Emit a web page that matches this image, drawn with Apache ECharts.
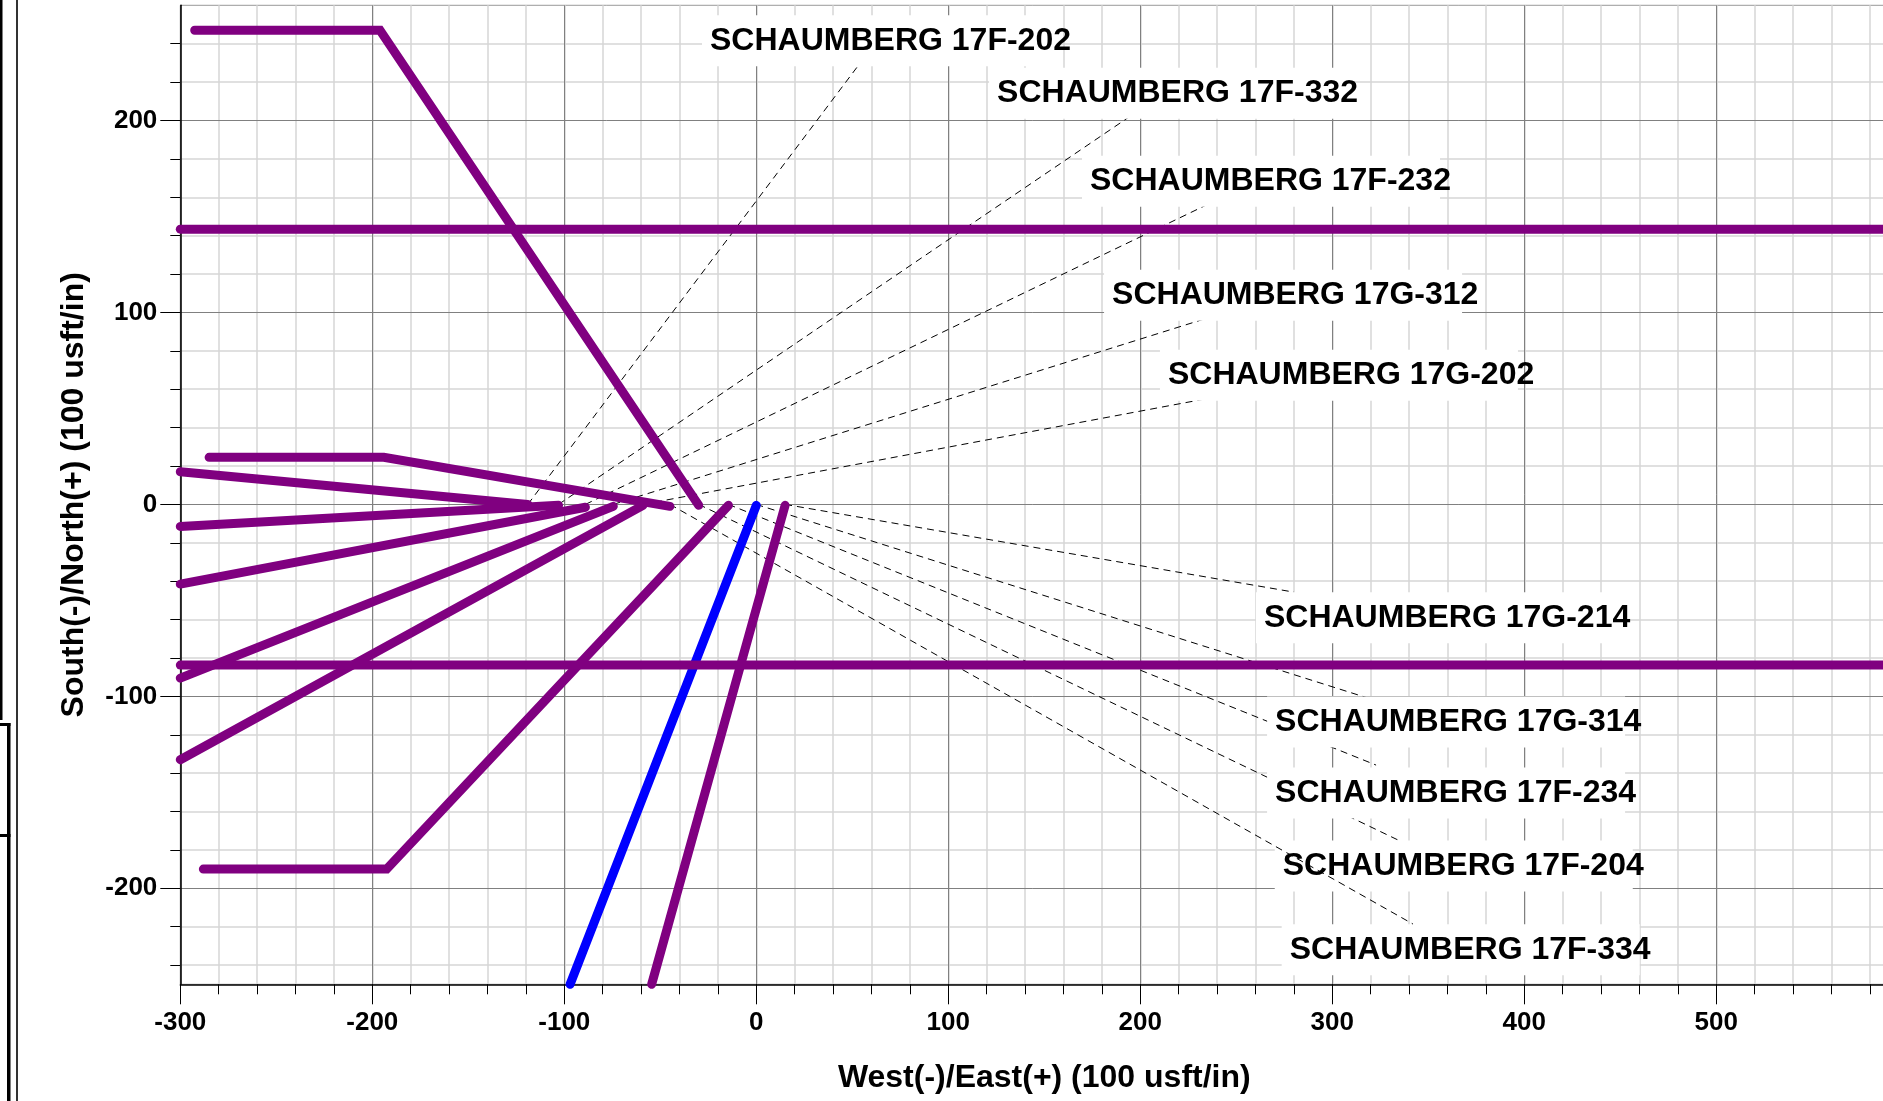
<!DOCTYPE html>
<html>
<head>
<meta charset="utf-8">
<style>html,body{margin:0;padding:0;background:#fff}#c{width:1883px;height:1101px}</style>
<script src="https://cdn.jsdelivr.net/npm/echarts@6/dist/echarts.min.js"></script>
</head>
<body>
<div id="c"></div>
<script>
// Plan-view wellbores, in 100 usft/in units
const well17F202 = [[-119, 0], [-300, 17]];
const well17F332 = [[-103, -0.5], [-300, -11.5]];
const well17F232 = [[-89, -1.5], [-300, -41.5]];
const well17G312 = [[-74.5, -1], [-300, -90.5]];
const well17G202 = [[-59, -0.5], [-300, -133]];
const well17G214 = [[-45, -1], [-194, 24.5], [-285, 24.5]];
const well17G314 = [[-30, -0.5], [-196, 247], [-292.5, 247]];
const well17F234 = [[-14.5, -0.5], [-192.5, -190], [-288, -190]];
const well17F204 = [[15, -0.5], [-54.5, -250]];
const wellSubject = [[0, -0.5], [-97, -250]];
const leaseNorth = [[-300, 143.4], [600, 143.4]];
const leaseSouth = [[-300, -83.7], [600, -83.7]];

// Leader lines: origin -> end
const leaders = [
  ['SCHAUMBERG 17F-202', [-119, 0], [54, 229.8]],
  ['SCHAUMBERG 17F-332', [-103, 0], [194.4, 202]],
  ['SCHAUMBERG 17F-232', [-89, 0], [235.3, 156.4]],
  ['SCHAUMBERG 17G-312', [-74.5, 0], [236.3, 97.5]],
  ['SCHAUMBERG 17G-202', [-59, 0], [236.3, 55.4]],
  ['SCHAUMBERG 17G-214', [15, 0], [280, -45.7]],
  ['SCHAUMBERG 17G-314', [0, 0], [318.6, -100.9]],
  ['SCHAUMBERG 17F-234', [-14.5, 0], [322.8, -135.8]],
  ['SCHAUMBERG 17F-204', [-30, 0], [335, -175.2]],
  ['SCHAUMBERG 17F-334', [-45, 0], [342, -218.6]]
];
// Label anchors (left end of text, centre height)
const labelNames = leaders.map(l => l[0]);
const labelX = [-24.1, 125.4, 173.8, 185.3, 214.4, 264.4, 270.2, 270.2, 274.2, 277.8];
const labelY = [242.6, 215.2, 169.4, 110, 68.3, -58, -112.3, -149.3, -187.3, -231];

const yMajor = [-200, -100, 0, 100, 200];
const yMinor = [-240, -220, -180, -160, -140, -120, -80, -60, -40, -20, 20, 40, 60, 80, 120, 140, 160, 180, 220, 240];

const FONT = '"Liberation Sans", Arial, sans-serif';
const PURPLE = '#800080';
const BLUE = '#0000ff';
const rect = { left: 180.3, top: 5.3, width: 1728, height: 979, outerBoundsMode: 'none', containLabel: false };

const wellSeries = (data, color) => ({
  type: 'line', xAxisIndex: 1, yAxisIndex: 1, data, showSymbol: false, symbol: 'none',
  clip: false, silent: true, z: 6, smooth: false,
  lineStyle: { color, width: 9, cap: 'round', join: 'miter' }
});
const leaderSeries = leaders.map((l, i) => ({
  type: 'line', xAxisIndex: 1, yAxisIndex: 1, data: [l[1], l[2]], showSymbol: false, symbol: 'none',
  silent: true, z: i === 9 ? 5 : 3,
  lineStyle: { color: '#000', width: 1, type: [7, 5] }
}));

const chart = echarts.init(document.getElementById('c'), null, { renderer: 'canvas' });
chart.setOption({
  animation: false,
  backgroundColor: '#fff',
  grid: [
    Object.assign({ show: true, backgroundColor: '#fff', borderColor: '#999', borderWidth: 1 }, rect),
    Object.assign({ show: false }, rect)
  ],
  xAxis: [
    {
      gridIndex: 0, type: 'value', min: -300, max: 600, interval: 20, z: 0, silent: true,
      axisLine: { show: false, onZero: false }, axisLabel: { show: false },
      axisTick: { show: true, length: 10, inside: false, lineStyle: { color: '#000', width: 1 } },
      splitLine: { show: true, lineStyle: { color: '#d6d6d6', width: 1.5 } }
    },
    {
      gridIndex: 1, type: 'value', min: -300, max: 600, interval: 100, z: 1, silent: true,
      name: 'West(-)/East(+) (100 usft/in)', nameLocation: 'middle', nameGap: 78,
      nameTextStyle: { fontFamily: FONT, fontWeight: 'bold', fontSize: 32, color: '#000' },
      axisLine: { show: true, onZero: false, lineStyle: { color: '#000', width: 1.5 } },
      axisTick: { show: true, length: 20, lineStyle: { color: '#000', width: 1 } },
      axisLabel: { show: true, margin: 26, fontFamily: FONT, fontWeight: 'bold', fontSize: 26, color: '#000', showMaxLabel: false },
      splitLine: { show: true, lineStyle: { color: '#808080', width: 1 } }
    }
  ],
  yAxis: [
    {
      gridIndex: 0, type: 'value', min: -250, max: 260, z: 0, silent: true,
      axisLine: { show: false, onZero: false }, axisLabel: { show: false },
      axisTick: { show: true, length: 10, customValues: yMinor, lineStyle: { color: '#000', width: 1 } },
      splitLine: { show: true, lineStyle: { color: '#d6d6d6', width: 1.5 } }
    },
    {
      gridIndex: 1, type: 'value', min: -250, max: 260, z: 1, silent: true,
      name: 'South(-)/North(+) (100 usft/in)', nameLocation: 'middle', nameGap: 90, nameRotate: 90,
      nameTextStyle: { fontFamily: FONT, fontWeight: 'bold', fontSize: 32, color: '#000' },
      axisLine: { show: true, onZero: false, lineStyle: { color: '#000', width: 1.5 } },
      axisTick: { show: true, length: 20, customValues: yMajor, lineStyle: { color: '#000', width: 1 } },
      axisLabel: { show: true, margin: 23, customValues: yMajor, fontFamily: FONT, fontWeight: 'bold', fontSize: 26, color: '#000' },
      splitLine: { show: true, lineStyle: { color: '#808080', width: 1 } }
    }
  ],
  series: [
    ...leaderSeries,
    {
      type: 'scatter', xAxisIndex: 1, yAxisIndex: 1, symbolSize: 0, silent: true, z: 4, clip: false,
      itemStyle: { opacity: 1 },
      data: labelNames.map((name, i) => ({ name, value: [labelX[i], labelY[i]] })),
      label: {
        show: true, position: 'right', distance: 0, offset: [-8, 2],
        formatter: p => p.name, opacity: 1,
        fontFamily: FONT, fontWeight: 'bold', fontSize: 32, lineHeight: 33, color: '#000',
        backgroundColor: '#fff', padding: [9, 0, 9, 8], width: 350, overflow: 'none', align: 'left'
      }
    },
    wellSeries(well17F202, PURPLE),
    wellSeries(well17F332, PURPLE),
    wellSeries(well17F232, PURPLE),
    wellSeries(well17G312, PURPLE),
    wellSeries(well17G202, PURPLE),
    wellSeries(well17G214, PURPLE),
    wellSeries(well17G314, PURPLE),
    wellSeries(well17F234, PURPLE),
    wellSeries(well17F204, PURPLE),
    wellSeries(wellSubject, BLUE),
    wellSeries(leaseNorth, PURPLE),
    wellSeries(leaseSouth, PURPLE)
  ],
  graphic: [
    { type: 'rect', silent: true, shape: { x: 0, y: 0, width: 2.5, height: 720 }, style: { fill: '#000' } },
    { type: 'rect', silent: true, shape: { x: 16, y: 0, width: 2, height: 1101 }, style: { fill: '#333' } },
    { type: 'rect', silent: true, shape: { x: 0, y: 723, width: 10.5, height: 3 }, style: { fill: '#000' } },
    { type: 'rect', silent: true, shape: { x: 7, y: 723, width: 3.5, height: 378 }, style: { fill: '#000' } },
    { type: 'rect', silent: true, shape: { x: 0, y: 834, width: 10.5, height: 3 }, style: { fill: '#000' } }
  ]
});
</script>
</body>
</html>
